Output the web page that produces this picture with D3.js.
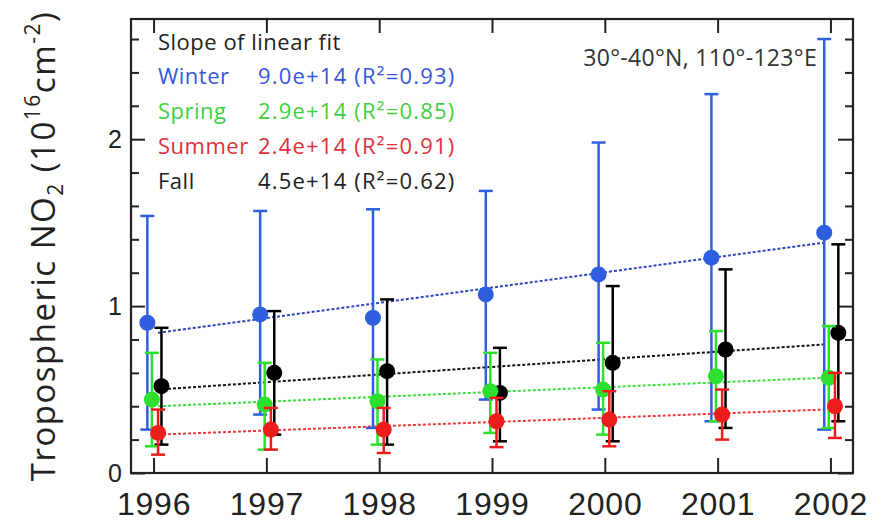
<!DOCTYPE html>
<html>
<head>
<meta charset="utf-8">
<script src="https://cdn.jsdelivr.net/npm/d3@7"></script>
<style>
html,body{margin:0;padding:0;background:#fff;}
svg{display:block;font-family:"Open Sans","Noto Sans",sans-serif;}
</style>
</head>
<body>
<svg id="chart" width="874" height="524"></svg>
<script>
// ---------------- data ----------------
const years = [1996, 1997, 1998, 1999, 2000, 2001, 2002];
const seasons = ["Winter", "Spring", "Summer", "Fall"];
const seasonColors = ["#2f5fe0", "#2ee02e", "#ee1c1c", "#000000"];
const fitColors = ["#2a45c0", "#3ae03a", "#ee3a3a", "#111111"];
const legendColors = ["#3457dc", "#3fd03f", "#e0303c", "#222222"];
const seasonOffsets = [-0.055, -0.015, 0.04, 0.07];

const winterMean  = [0.90, 0.95, 0.93, 1.07, 1.19, 1.29, 1.44];
const winterUpper = [1.54, 1.57, 1.58, 1.69, 1.98, 2.27, 2.60];
const winterLower = [0.26, 0.35, 0.27, 0.44, 0.38, 0.31, 0.26];

const springMean  = [0.44, 0.41, 0.43, 0.49, 0.50, 0.58, 0.57];
const springUpper = [0.72, 0.66, 0.68, 0.72, 0.78, 0.85, 0.88];
const springLower = [0.16, 0.14, 0.17, 0.24, 0.23, 0.31, 0.27];

const summerMean  = [0.24, 0.26, 0.26, 0.31, 0.32, 0.35, 0.40];
const summerUpper = [0.38, 0.39, 0.39, 0.45, 0.49, 0.50, 0.60];
const summerLower = [0.11, 0.14, 0.12, 0.155, 0.16, 0.20, 0.21];

const fallMean    = [0.52, 0.60, 0.61, 0.48, 0.66, 0.74, 0.84];
const fallUpper   = [0.87, 0.97, 1.04, 0.75, 1.12, 1.22, 1.37];
const fallLower   = [0.17, 0.23, 0.17, 0.19, 0.19, 0.27, 0.31];

// linear fit end points (value at first and last year)
const fitStart = [0.84, 0.40, 0.23, 0.50];
const fitEnd   = [1.38, 0.57, 0.38, 0.77];

const slopeLabels = ["9.0e+14", "2.9e+14", "2.4e+14", "4.5e+14"];
const r2Labels = ["0.93", "0.85", "0.91", "0.62"];

const yMajorTicks = [0, 1, 2];
const yMinorTicks = [0.2, 0.4, 0.6, 0.8, 1.2, 1.4, 1.6, 1.8, 2.2, 2.4, 2.6];

const means = [winterMean, springMean, summerMean, fallMean];
const uppers = [winterUpper, springUpper, summerUpper, fallUpper];
const lowers = [winterLower, springLower, summerLower, fallLower];

// ---------------- layout ----------------
const svg = d3.select("#chart");
const L = 131, R = 853, T = 19, B = 473;
const x = d3.scaleLinear().domain([1995.8, 2002.2]).range([L, R]);
const y = d3.scaleLinear().domain([0, 2.72]).range([B, T]);
const axisColor = "#222";

// axes (ticks pointing inward)
const gx = svg.append("g").attr("transform", `translate(0,${B})`)
  .call(d3.axisBottom(x).tickValues(years).tickFormat(d3.format("d")).tickSizeInner(-15).tickSizeOuter(0));
gx.selectAll("text").attr("font-size", 32).attr("fill", "#222")
  .attr("y", 42).attr("dy", 0).attr("letter-spacing", 0.8);
svg.append("g").attr("transform", `translate(0,${T})`)
  .call(d3.axisTop(x).tickValues(years).tickFormat("").tickSizeInner(-14).tickSizeOuter(0));

const gy = svg.append("g").attr("transform", `translate(${L},0)`)
  .call(d3.axisLeft(y).tickValues(yMajorTicks).tickFormat(d3.format("d")).tickSizeInner(-14).tickSizeOuter(0));
gy.selectAll("text").attr("font-size", 25).attr("fill", "#222").attr("x", -9);
svg.append("g").attr("transform", `translate(${L},0)`)
  .call(d3.axisLeft(y).tickValues(yMinorTicks).tickFormat("").tickSizeInner(-8).tickSizeOuter(0));
svg.append("g").attr("transform", `translate(${R},0)`)
  .call(d3.axisRight(y).tickValues(yMajorTicks).tickFormat("").tickSizeInner(-15).tickSizeOuter(0));
svg.append("g").attr("transform", `translate(${R},0)`)
  .call(d3.axisRight(y).tickValues(yMinorTicks).tickFormat("").tickSizeInner(-8).tickSizeOuter(0));

svg.selectAll(".domain").remove();
svg.selectAll(".tick line").attr("stroke", axisColor).attr("stroke-width", 2);

// frame
svg.append("rect").attr("x", L).attr("y", T).attr("width", R - L).attr("height", B - T)
  .attr("fill", "none").attr("stroke", axisColor).attr("stroke-width", 2.2);

// ---------------- fit lines ----------------
const fitG = svg.append("g");
seasons.forEach((s, i) => {
  fitG.append("line")
    .attr("x1", x(years[0] + 0.04)).attr("x2", x(years[years.length - 1] - 0.06))
    .attr("y1", y(fitStart[i])).attr("y2", y(fitEnd[i]))
    .attr("stroke", fitColors[i]).attr("stroke-width", 2)
    .attr("stroke-dasharray", "3,2");
});

// ---------------- error bars and points ----------------
const drawOrder = [0, 3, 1, 2];
drawOrder.forEach(i => {
  const g = svg.append("g");
  const col = seasonColors[i];
  years.forEach((yr, j) => {
    const cx = x(yr + seasonOffsets[i]);
    g.append("line").attr("x1", cx).attr("x2", cx)
      .attr("y1", y(lowers[i][j])).attr("y2", y(uppers[i][j]))
      .attr("stroke", col).attr("stroke-width", 2.5);
    [uppers[i][j], lowers[i][j]].forEach(v => {
      g.append("line").attr("x1", cx - 7).attr("x2", cx + 7)
        .attr("y1", y(v)).attr("y2", y(v))
        .attr("stroke", col).attr("stroke-width", 2.5);
    });
  });
  g.selectAll("circle").data(means[i]).join("circle")
    .attr("cx", (d, j) => x(years[j] + seasonOffsets[i]))
    .attr("cy", d => y(d))
    .attr("r", 8)
    .attr("fill", col);
});

// ---------------- legend ----------------
const leg = svg.append("g").attr("font-size", 22);
leg.append("text").attr("x", 158).attr("y", 50).attr("fill", "#222").attr("letter-spacing", 0.5).text("Slope of linear fit");
seasons.forEach((s, i) => {
  const yy = 84 + i * 35;
  leg.append("text").attr("x", 158).attr("y", yy).attr("fill", legendColors[i]).attr("letter-spacing", 0.5).text(s);
  leg.append("text").attr("x", 258).attr("y", yy).attr("fill", legendColors[i]).attr("letter-spacing", 1.2)
    .text(`${slopeLabels[i]} (R²=${r2Labels[i]})`);
});

// region annotation
svg.append("text").attr("x", 817).attr("y", 66).attr("text-anchor", "end")
  .attr("font-size", 23).attr("letter-spacing", 0.3).attr("fill", "#333").text("30°-40°N, 110°-123°E");

// y-axis title
const yt = svg.append("text")
  .attr("transform", `translate(55,${(487 + 5) / 2}) rotate(-90)`)
  .attr("text-anchor", "middle").attr("font-size", 33).attr("letter-spacing", 1.5).attr("fill", "#222");
yt.append("tspan").text("Tropospheric NO");
yt.append("tspan").attr("font-size", 21).attr("dy", 8).text("2");
yt.append("tspan").attr("dy", -8).text(" (10");
yt.append("tspan").attr("font-size", 21).attr("dy", -15).text("16");
yt.append("tspan").attr("dy", 15).text("cm");
yt.append("tspan").attr("font-size", 21).attr("dy", -15).text("-2");
yt.append("tspan").attr("dy", 15).text(")");
</script>
</body>
</html>
